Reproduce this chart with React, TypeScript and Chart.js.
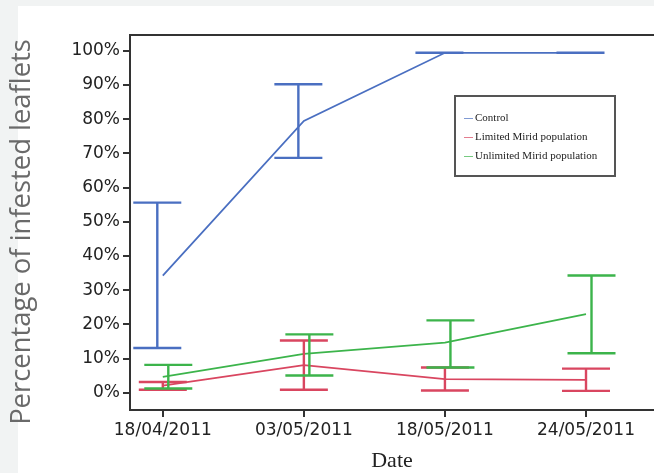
import React, { useEffect, useRef } from "react";
import { Chart, registerables } from "chart.js";

Chart.register(...registerables);

const categories = ["18/04/2011", "03/05/2011", "18/05/2011", "24/05/2011"];
const seriesNames = ["Control", "Limited Mirid population", "Unlimited Mirid population"];
const controlMean = [34.3, 79.5, 99.4, 99.4];
const controlLow = [13.1, 68.7, 99.4, 99.4];
const controlHigh = [55.6, 90.2, 99.4, 99.4];
const limitedMean = [2.1, 8.1, 4.0, 3.8];
const limitedLow = [0.9, 0.9, 0.7, 0.6];
const limitedHigh = [3.2, 15.3, 7.4, 7.1];
const unlimitedMean = [4.7, 11.4, 14.7, 23.0];
const unlimitedLow = [1.3, 5.1, 7.4, 11.6];
const unlimitedHigh = [8.2, 17.1, 21.2, 34.3];
const yTickValues = [0, 10, 20, 30, 40, 50, 60, 70, 80, 90, 100];
const errorBarDodge = [-0.039, 0, 0.039];

const colors = ["#4a6fc1", "#d94660", "#3cb44b"];
const means = [controlMean, limitedMean, unlimitedMean];
const lows = [controlLow, limitedLow, unlimitedLow];
const highs = [controlHigh, limitedHigh, unlimitedHigh];

const overlayPlugin = {
  id: "overlay",
  afterDatasetsDraw(chart: any) {
    const { ctx, chartArea } = chart;
    const xs = chart.scales.x;
    const ys = chart.scales.y;
    ctx.save();
    // error bars
    const capHalf = 24;
    for (let k = 0; k < 3; k++) {
      ctx.strokeStyle = colors[k];
      ctx.lineWidth = 2.4;
      for (let i = 0; i < categories.length; i++) {
        const x = xs.getPixelForValue(i + errorBarDodge[k]);
        const yl = ys.getPixelForValue(lows[k][i]);
        const yh = ys.getPixelForValue(highs[k][i]);
        ctx.beginPath();
        ctx.moveTo(x, yl);
        ctx.lineTo(x, yh);
        ctx.moveTo(x - capHalf, yl);
        ctx.lineTo(x + capHalf, yl);
        ctx.moveTo(x - capHalf, yh);
        ctx.lineTo(x + capHalf, yh);
        ctx.stroke();
      }
    }
    // top border
    ctx.strokeStyle = "#333";
    ctx.lineWidth = 2;
    ctx.beginPath();
    ctx.moveTo(chartArea.left - 1, chartArea.top);
    ctx.lineTo(chartArea.right, chartArea.top);
    ctx.stroke();

    // legend
    const lx = 455;
    const ly = 96;
    ctx.strokeStyle = "#555";
    ctx.lineWidth = 2;
    ctx.strokeRect(lx, ly, 160, 80);
    ctx.font = '11px "Liberation Serif"';
    ctx.textBaseline = "middle";
    ctx.textAlign = "left";
    for (let k = 0; k < 3; k++) {
      const ry = ly + 22 + k * 19;
      ctx.strokeStyle = colors[k];
      ctx.globalAlpha = 0.7;
      ctx.lineWidth = 1;
      ctx.beginPath();
      ctx.moveTo(lx + 9, ry + 0.5);
      ctx.lineTo(lx + 18, ry + 0.5);
      ctx.stroke();
      ctx.globalAlpha = 1;
      ctx.fillStyle = "#222";
      ctx.fillText(seriesNames[k], lx + 20, ry);
    }

    // y title
    ctx.save();
    ctx.translate(22, 232);
    ctx.rotate(-Math.PI / 2);
    ctx.font = '27.4px "Open Sans"';
    ctx.fillStyle = "#6a6a6a";
    ctx.textAlign = "center";
    ctx.textBaseline = "middle";
    ctx.fillText("Percentage of infested leaflets", 0, 0);
    ctx.restore();

    // x title
    ctx.font = '22px "Liberation Serif"';
    ctx.fillStyle = "#222";
    ctx.textAlign = "center";
    ctx.textBaseline = "alphabetic";
    ctx.fillText("Date", (chartArea.left + chartArea.right) / 2, 467);
    ctx.restore();
  },
};

export default function App() {
  const ref = useRef<HTMLCanvasElement | null>(null);
  useEffect(() => {
    if (!ref.current) return;
    const datasets = means.map((m, k) => ({
      label: seriesNames[k],
      data: m.map((v, i) => ({ x: i, y: v })),
      showLine: true,
      borderColor: colors[k],
      backgroundColor: colors[k],
      borderWidth: 1.8,
      pointRadius: 0,
      tension: 0,
    }));
    const axisCommon = {
      grid: {
        drawOnChartArea: false,
        drawTicks: true,
        tickLength: 7,
        color: "#333",
        lineWidth: 2,
      },
      border: { display: true, color: "#333", width: 2 },
    };
    const chart = new Chart(ref.current, {
      type: "scatter",
      data: { datasets },
      options: {
        responsive: false,
        animation: false,
        layout: { padding: { top: 35, left: 0, right: 0, bottom: 0 } },
        plugins: { legend: { display: false }, tooltip: { enabled: false } },
        scales: {
          x: {
            type: "linear",
            min: -0.2325,
            max: 3.482,
            afterBuildTicks: (s: any) => {
              s.ticks = categories.map((_, i) => ({ value: i }));
            },
            afterFit: (s: any) => {
              s.height = 63;
            },
            ticks: {
              callback: (v: any) => categories[v] ?? "",
              font: { family: "DejaVu Sans", size: 17 },
              color: "#222",
              padding: 3,
              maxRotation: 0,
              autoSkip: false,
            },
            ...axisCommon,
          },
          y: {
            type: "linear",
            min: -5,
            max: 104.6,
            afterBuildTicks: (s: any) => {
              s.ticks = yTickValues.map((v) => ({ value: v }));
            },
            afterFit: (s: any) => {
              s.width = 130;
            },
            ticks: {
              callback: (v: any) => v + "%",
              font: { family: "DejaVu Sans", size: 17 },
              color: "#222",
              padding: 3,
              autoSkip: false,
            },
            ...axisCommon,
          },
        },
      },
      plugins: [overlayPlugin],
    } as any);
    return () => chart.destroy();
  }, []);

  return (
    <div style={{ position: "fixed", left: 0, top: 0, width: 654, height: 473, background: "#fff", overflow: "hidden" }}>
      <div style={{ position: "absolute", left: 0, top: 0, width: 654, height: 6, background: "#f1f3f3" }} />
      <div style={{ position: "absolute", left: 0, top: 0, width: 18, height: 473, background: "#f1f3f3" }} />
      <canvas ref={ref} width={654} height={473} style={{ position: "absolute", left: 0, top: 0, width: 654, height: 473 }} />
    </div>
  );
}
